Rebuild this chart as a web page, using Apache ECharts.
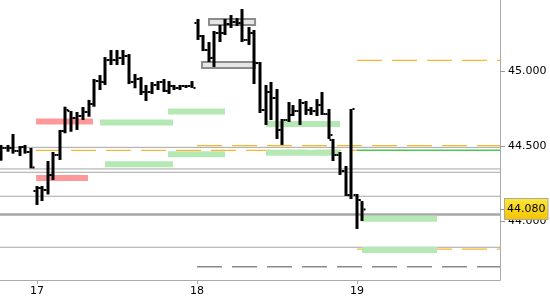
<!DOCTYPE html>
<html><head><meta charset="utf-8">
<script src="https://cdn.jsdelivr.net/npm/echarts@6/dist/echarts.min.js"></script>
<style>html,body{margin:0;padding:0;background:#fff}#c{width:550px;height:300px}</style>
</head><body><div id="c"></div>
<script>
// ---- data ----
const xTicks = [17, 18, 19];
const yTicks = [44.0, 44.5, 45.0, 45.5];
const lastPrice = 44.08;

const barTime = [16.778,16.816,16.853,16.891,16.925,16.963,16.997,17.031,17.066,17.103,17.144,17.175,17.213,17.250,17.288,17.325,17.359,17.394,17.428,17.463,17.500,17.538,17.575,17.613,17.650,17.681,17.719,17.756,17.791,17.825,17.859,17.894,17.931,17.966,18.006,18.038,18.075,18.106,18.144,18.178,18.213,18.247,18.284,18.322,18.356,18.394,18.431,18.463,18.503,18.534,18.572,18.603,18.644,18.681,18.713,18.753,18.784,18.822,18.853,18.894,18.931,18.963,19.003,19.034];
const barOpen = [44.473,44.487,44.487,44.467,44.493,44.460,44.200,44.220,44.207,44.307,44.440,44.600,44.733,44.687,44.700,44.727,44.780,44.933,44.927,45.073,45.073,45.087,45.100,44.927,44.947,44.860,44.860,44.907,44.927,44.867,44.900,44.887,44.900,44.900,45.320,45.233,45.140,45.087,45.253,45.253,45.313,45.327,45.320,45.207,45.253,45.053,44.740,44.860,44.820,44.607,44.673,44.707,44.733,44.787,44.740,44.733,44.773,44.713,44.540,44.440,44.333,44.173,44.173,44.140];
const barHigh = [44.507,44.507,44.580,44.500,44.507,44.487,44.233,44.233,44.400,44.460,44.607,44.762,44.733,44.727,44.760,44.807,44.947,44.973,45.093,45.140,45.140,45.140,45.113,44.980,44.960,44.907,44.927,44.933,44.947,44.933,44.907,44.907,44.907,44.933,45.347,45.240,45.193,45.267,45.307,45.347,45.373,45.353,45.413,45.293,45.273,45.060,44.907,44.927,44.880,44.680,44.793,44.773,44.813,44.800,44.760,44.813,44.860,44.747,44.547,44.460,44.367,44.747,44.180,44.133];
const barLow = [44.402,44.462,44.449,44.433,44.449,44.351,44.107,44.133,44.177,44.273,44.407,44.585,44.595,44.607,44.673,44.695,44.762,44.873,44.907,45.040,45.040,45.040,44.913,44.885,44.840,44.800,44.847,44.873,44.860,44.847,44.873,44.873,44.887,44.887,45.207,45.133,45.060,45.027,45.193,45.240,45.287,45.300,45.193,45.173,44.913,44.720,44.640,44.673,44.547,44.507,44.660,44.700,44.640,44.707,44.707,44.700,44.707,44.547,44.400,44.307,44.167,44.147,43.947,44.000];
const barClose = [44.487,44.487,44.467,44.493,44.460,44.357,44.220,44.207,44.307,44.440,44.600,44.740,44.687,44.700,44.727,44.780,44.933,44.927,45.073,45.073,45.087,45.100,44.927,44.947,44.860,44.860,44.907,44.927,44.867,44.900,44.887,44.900,44.900,44.887,45.233,45.140,45.087,45.253,45.253,45.313,45.327,45.320,45.207,45.253,45.053,44.740,44.860,44.820,44.607,44.673,44.707,44.733,44.787,44.740,44.733,44.773,44.713,44.573,44.440,44.333,44.173,44.747,44.140,44.077];

// zones: [start, end, level]
const greenZones = [[17.394,17.850,44.657],[17.819,18.175,44.730],[17.425,17.850,44.378],[17.819,18.175,44.445],[18.431,18.894,44.647],[18.431,18.894,44.455],[19.031,19.500,44.015],[19.031,19.500,43.807]];
const redZones = [[16.994,17.350,44.663],[16.994,17.319,44.287]];
const grayBoxes = [[18.075,18.363,45.327],[18.031,18.363,45.040]];

// horizontal levels
const grayLevels = [44.491, 44.347, 44.325, 44.165, 43.825];
const thickLevel = 44.043;
const orangeLevels = [[19.0, null, 45.071],[18.0, null, 44.503],[16.994, 19.0, 44.471],[19.0, null, 43.813]];
const greenLevels = [[19.0, null, 44.471]];
const grayDashLevels = [[18.0, null, 43.695]];

// ---- chart ----
const xMin = 16.76875, xMax = 19.89375;
const yMin = 43.6067, yMax = 45.5;
const font = 'DejaVu Sans';

function hline(t0, t1, v, color, width, type, z) {
  return { type: 'line', data: [[t0, v], [t1 == null ? xMax : t1, v]], showSymbol: false, symbol: 'none',
    silent: true, z: z || 1, animation: false,
    lineStyle: { color: color, width: width, type: type || 'solid' } };
}

function zoneSeries(data, fill, stroke, z) {
  return { type: 'custom', data: data, z: z, animation: false, silent: true,
    renderItem: function (params, api) {
      const p0 = api.coord([api.value(0), api.value(2)]);
      const p1 = api.coord([api.value(1), api.value(2)]);
      return { type: 'rect', shape: { x: p0[0], y: p0[1] - 3, width: p1[0] - p0[0], height: 6 },
        style: stroke ? { fill: fill, stroke: stroke, lineWidth: 2 } : { fill: fill } };
    } };
}

const series = [];
grayLevels.forEach(v => series.push(hline(xMin, xMax, v, '#a6a6a6', 1, 'solid', 1)));
series.push(hline(xMin, xMax, thickLevel, '#a6a6a6', 2.5, 'solid', 1));
orangeLevels.forEach(l => series.push(hline(l[0], l[1], l[2], '#f7b731', 1.2, [25, 10], 2)));
greenLevels.forEach(l => series.push(hline(l[0], l[1], l[2], '#4cc94c', 1.5, 'solid', 2)));
grayDashLevels.forEach(l => series.push(hline(l[0], l[1], l[2], '#8a8a8a', 1.5, [25, 10], 2)));
series.push(zoneSeries(greenZones, '#b4e9b4', null, 3));
series.push(zoneSeries(redZones, '#ff9999', null, 3));
series.push(zoneSeries(grayBoxes, '#e6e6e6', '#8c8c8c', 3));

const barData = barTime.map((t, i) => [t, barOpen[i], barHigh[i], barLow[i], barClose[i]]);
series.push({ type: 'custom', data: barData, z: 5, animation: false,
  renderItem: function (params, api) {
    const t = api.value(0);
    const o = api.coord([t, api.value(1)]);
    const h = api.coord([t, api.value(2)]);
    const l = api.coord([t, api.value(3)]);
    const c = api.coord([t, api.value(4)]);
    const x = Math.round(h[0]);
    return { type: 'group', children: [
      { type: 'rect', shape: { x: x - 1.5, y: h[1], width: 3, height: Math.max(1, l[1] - h[1]) }, style: { fill: '#000' } },
      { type: 'rect', shape: { x: x - 3.5, y: o[1] - 1, width: 2, height: 2 }, style: { fill: '#000' } },
      { type: 'rect', shape: { x: x + 1.5, y: c[1] - 1, width: 2, height: 2 }, style: { fill: '#000' } }
    ] };
  } });

// last price label
series.push({ type: 'line', data: [[xMin, lastPrice], [xMax, lastPrice]], z: 10, animation: false, silent: true,
  showSymbol: false, symbol: 'none', lineStyle: { opacity: 0 },
  endLabel: { show: true, distance: 5, formatter: lastPrice.toFixed(3),
      fontFamily: font, fontSize: 11, color: '#000', padding: [5, 2, 4, 2],
      borderColor: '#a8a8a8', borderWidth: 1,
      backgroundColor: { type: 'linear', x: 0, y: 0, x2: 0, y2: 1,
        colorStops: [{ offset: 0, color: '#ffe93a' }, { offset: 1, color: '#f3c200' }] } } });

const chart = echarts.init(document.getElementById('c'), null, { renderer: 'canvas' });
chart.setOption({
  animation: false,
  backgroundColor: '#fff',
  grid: { left: 0, right: 50, top: -4, bottom: 20, containLabel: false, outerBoundsMode: 'none' },
  xAxis: { type: 'value', min: xMin, max: xMax,
    axisLine: { show: true, lineStyle: { color: '#aaaaaa', width: 1 } },
    axisTick: { show: true, length: 4, customValues: xTicks, lineStyle: { color: '#aaaaaa' } },
    axisLabel: { customValues: xTicks, margin: 6, fontFamily: font, fontSize: 11, color: '#000', formatter: v => String(Math.round(v)) },
    splitLine: { show: false } },
  yAxis: { type: 'value', position: 'right', min: yMin, max: yMax,
    axisLine: { show: true, lineStyle: { color: '#aaaaaa', width: 1 } },
    axisTick: { show: true, length: 5, customValues: yTicks.concat([lastPrice]), lineStyle: { color: '#999' } },
    axisLabel: { customValues: yTicks, margin: 8, fontFamily: font, fontSize: 11, color: '#000', formatter: v => v.toFixed(3) },
    splitLine: { show: false } },
  series: series
});
</script>
</body></html>
